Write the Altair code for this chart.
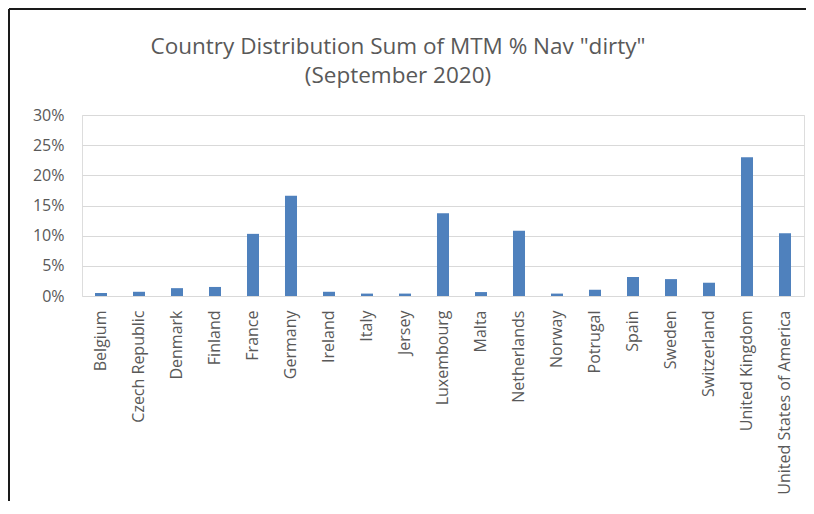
import altair as alt
import pandas as pd

countries = ["Belgium", "Czech Republic", "Denmark", "Finland", "France", "Germany",
             "Ireland", "Italy", "Jersey", "Luxembourg", "Malta", "Netherlands",
             "Norway", "Potrugal", "Spain", "Sweden", "Switzerland",
             "United Kingdom", "United States of America"]
values = [0.005, 0.007, 0.013, 0.015, 0.103, 0.166,
          0.007, 0.004, 0.004, 0.137, 0.0065, 0.108,
          0.004, 0.0105, 0.0315, 0.028, 0.022,
          0.230, 0.104]
y_ticks = [0, 0.05, 0.10, 0.15, 0.20, 0.25, 0.30]

df = pd.DataFrame({"country": countries, "value": values})

FONT = "Open Sans"
GREY = "#595959"
W, H = 722, 181

bars = alt.Chart(df).mark_bar(color="#4F81BD").encode(
    x=alt.X("country:N", sort=countries, title=None,
            scale=alt.Scale(paddingInner=0.684, paddingOuter=0.342),
            axis=alt.Axis(labelAngle=-90, labelFontSize=16, labelColor=GREY,
                          labelFont=FONT, ticks=False, domain=False, labelLimit=0,
                          labelPadding=14, labelFontWeight="normal")),
    y=alt.Y("value:Q", title=None,
            scale=alt.Scale(domain=[0, 0.30], nice=False),
            axis=alt.Axis(values=y_ticks, format=".0%", labelFontSize=16,
                          labelColor=GREY, labelFont=FONT, ticks=False,
                          domain=False, labelPadding=18, gridColor="#D9D9D9",
                          gridWidth=1.2)),
)

frame_df = pd.DataFrame({"a": [0]})
left_border = alt.Chart(frame_df).mark_rule(color="#1a1a1a", strokeWidth=2).encode(
    x=alt.value(-73), y=alt.value(-106), y2=alt.value(400))
top_border = alt.Chart(frame_df).mark_rule(color="#1a1a1a", strokeWidth=2).encode(
    x=alt.value(-73), x2=alt.value(730), y=alt.value(-106))

chart = alt.layer(bars, left_border, top_border).properties(
    width=W, height=H,
    title=alt.TitleParams(
        text=['Country Distribution Sum of MTM % Nav "dirty"', "(September 2020)"],
        font=FONT, fontSize=22.5, fontWeight="normal", color=GREY,
        anchor="middle", lineHeight=29, offset=-79, dx=-45),
    autosize=alt.AutoSizeParams(type="none"),
    padding={"left": 74, "top": 107, "right": 2, "bottom": 205},
).configure_view(stroke=None).configure(background="white")

chart.save("out.html", embed_options={"renderer": "svg", "actions": False})
